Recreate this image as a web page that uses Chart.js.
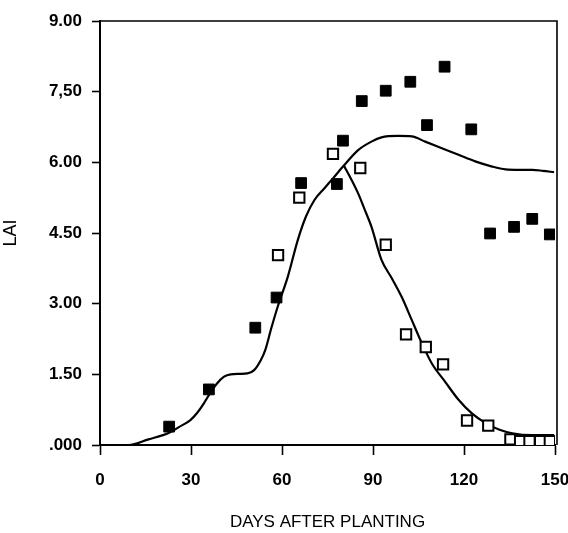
<!DOCTYPE html>
<html>
<head>
<meta charset="utf-8">
<script src="https://cdn.jsdelivr.net/npm/chart.js@4.4.1/dist/chart.umd.min.js"></script>
<style>
html,body{margin:0;padding:0;background:#fff;}
#wrap{width:568px;height:533px;position:relative;}
</style>
</head>
<body>
<div id="wrap"><canvas id="c" width="568" height="533"></canvas></div>
<script>
// ---- data ----
const filledDays = [22.8, 35.9, 51.2, 58.2, 66.3, 78.1, 80.1, 86.3, 94.2, 102.3, 107.8, 113.6, 122.4, 128.6, 136.5, 142.5, 148.3];
const filledLAI  = [0.39, 1.18, 2.49, 3.13, 5.56, 5.54, 6.46, 7.30, 7.52, 7.71, 6.79, 8.03, 6.70, 4.49, 4.63, 4.80, 4.47];

const openDays = [58.7, 65.7, 76.8, 85.8, 94.2, 100.9, 107.4, 113.1, 121.0, 128.0, 135.3, 138.5, 141.6, 145.1, 148.3];
const openLAI  = [4.03, 5.25, 6.18, 5.88, 4.25, 2.35, 2.08, 1.71, 0.52, 0.41, 0.12, 0.08, 0.08, 0.08, 0.08];

const curve1Days = [0, 9.4, 16, 22.8, 26, 29.8, 32, 34.3, 35.9, 38.5, 40.9, 43.1, 46, 48.6, 50.8, 53, 54.5, 56.3, 58.6, 61.9, 65.2, 67.9, 70.7, 74.0, 76.8, 80.1, 85.1, 89.5, 92.8, 98.3, 102.8, 107.2, 112.7, 118.2, 123.7, 129.3, 133.7, 138, 142.5, 146, 149.7];
const curve1LAI  = [0, 0, 0.12, 0.26, 0.38, 0.53, 0.68, 0.89, 1.06, 1.30, 1.45, 1.50, 1.51, 1.52, 1.59, 1.80, 2.02, 2.44, 2.94, 3.57, 4.35, 4.85, 5.20, 5.45, 5.66, 5.91, 6.26, 6.44, 6.53, 6.56, 6.55, 6.44, 6.30, 6.16, 6.02, 5.91, 5.85, 5.84, 5.84, 5.82, 5.79];

const curve2Days = [80.4, 82.9, 85.1, 87.3, 89.5, 92.8, 96.1, 99.4, 102.8, 106.1, 109.4, 113.8, 118.2, 122.6, 127.0, 131.5, 135.9, 142.5, 149.7];
const curve2LAI  = [5.93, 5.63, 5.34, 4.99, 4.63, 3.93, 3.55, 3.15, 2.65, 2.16, 1.73, 1.34, 0.96, 0.67, 0.47, 0.33, 0.25, 0.21, 0.21];

const xTicks = [0, 30, 60, 90, 120, 150];
const yTickValues = [0, 1.5, 3, 4.5, 6, 7.5, 9];
const yTickLabels = ['.000', '1.50', '3.00', '4.50', '6.00', '7,50', '9.00'];

const xTitle = 'DAYS AFTER PLANTING';
const yTitle = 'LAI';

// ---- build ----
const pts = (xs, ys) => xs.map((x, i) => ({x: x, y: ys[i]}));
const FONT = '"Liberation Sans", Arial, sans-serif';

const framePlugin = {
  id: 'frame',
  afterDatasetsDraw(chart) {
    const {ctx, chartArea: a} = chart;
    ctx.save();
    ctx.strokeStyle = '#000';
    ctx.lineWidth = 1.6;
    ctx.beginPath();
    ctx.moveTo(a.left, a.top);
    ctx.lineTo(a.right + 2, a.top);
    ctx.lineTo(a.right + 2, a.bottom);
    ctx.stroke();
    ctx.restore();
  }
};

new Chart(document.getElementById('c'), {
  type: 'scatter',
  data: {
    datasets: [
      {
        type: 'line', data: pts(curve1Days, curve1LAI), borderColor: '#000', borderWidth: 2.2,
        pointRadius: 0, fill: false, cubicInterpolationMode: 'monotone', order: 3
      },
      {
        type: 'line', data: pts(curve2Days, curve2LAI), borderColor: '#000', borderWidth: 2.2,
        pointRadius: 0, fill: false, cubicInterpolationMode: 'monotone', order: 3
      },
      {
        data: pts(openDays, openLAI), pointStyle: 'rect', pointRadius: 7.3,
        backgroundColor: '#fff', borderColor: '#000', borderWidth: 2, order: 2
      },
      {
        data: pts(filledDays, filledLAI), pointStyle: 'rect', pointRadius: 7.6,
        backgroundColor: '#000', borderColor: '#000', borderWidth: 1, order: 1
      }
    ]
  },
  options: {
    responsive: false,
    animation: false,
    devicePixelRatio: 1,
    layout: {padding: {left: 0, right: 13, top: 21, bottom: 0}},
    plugins: {legend: {display: false}, tooltip: {enabled: false}},
    scales: {
      x: {
        type: 'linear', min: 0, max: 150,
        afterBuildTicks: s => { s.ticks = xTicks.map(v => ({value: v})); },
        afterFit: s => { s.height = 88; s.paddingLeft = 0; s.paddingRight = 0; },
        grid: {drawOnChartArea: false, drawTicks: true, tickLength: 10, color: '#000', tickWidth: 1.6},
        border: {display: true, color: '#000', width: 2},
        ticks: {color: '#000', font: {family: FONT, size: 17, weight: 'bold'}, padding: 15, maxRotation: 0, callback: v => String(v)},
        title: {display: true, text: xTitle, color: '#000', font: {family: FONT, size: 17}, padding: {top: 15, bottom: 0}}
      },
      y: {
        type: 'linear', min: 0, max: 9,
        afterBuildTicks: s => { s.ticks = yTickValues.map(v => ({value: v})); },
        afterFit: s => { s.width = 100; s.paddingTop = 0; s.paddingBottom = 0; },
        grid: {drawOnChartArea: false, drawTicks: true, tickLength: 8, color: '#000', tickWidth: 1.6},
        border: {display: true, color: '#000', width: 2},
        ticks: {color: '#000', font: {family: FONT, size: 17, weight: 'bold'}, padding: 10,
          callback: (v) => { const i = yTickValues.indexOf(v); return i >= 0 ? yTickLabels[i] : ''; }},
        title: {display: true, text: yTitle, color: '#000', font: {family: FONT, size: 18}, padding: {top: 0, bottom: 0}}
      }
    }
  },
  plugins: [framePlugin]
});
</script>
</body>
</html>
